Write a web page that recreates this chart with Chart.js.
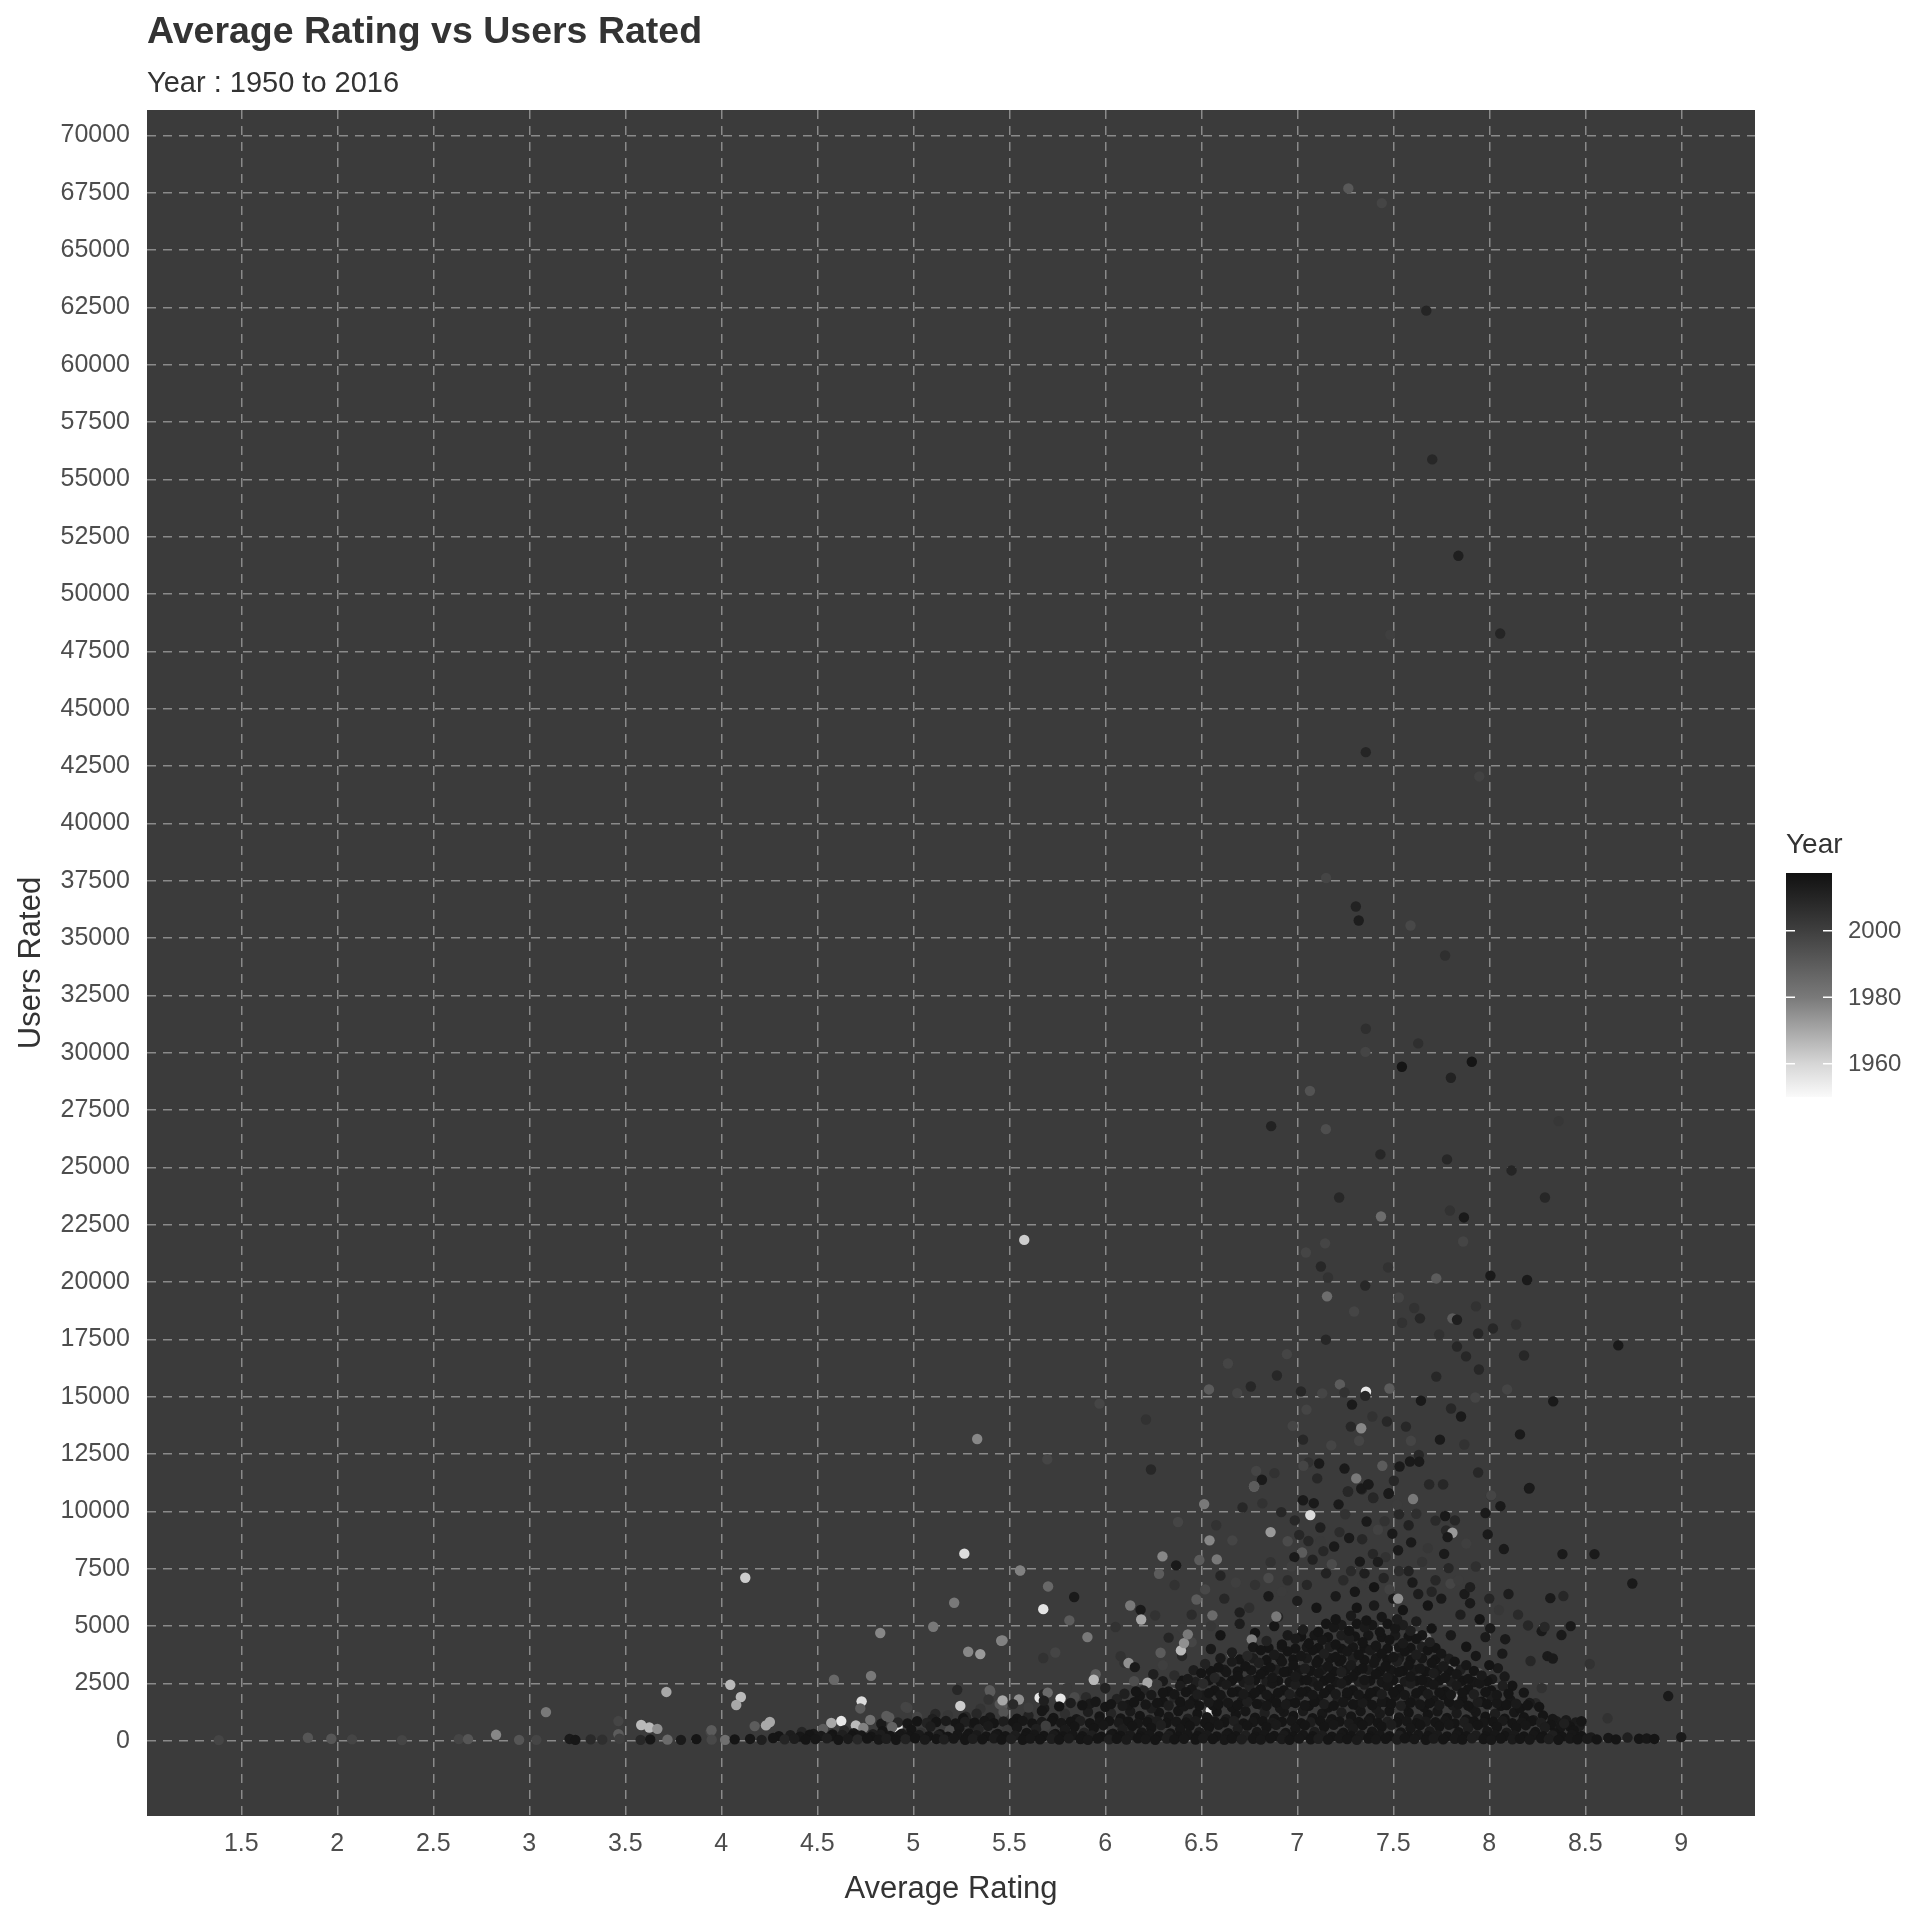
<!DOCTYPE html>
<html><head><meta charset="utf-8">
<script src="https://cdn.jsdelivr.net/npm/chart.js@4.4.0/dist/chart.umd.min.js"></script>
<style>html,body{margin:0;padding:0;background:#fff}canvas{display:block}</style>
</head><body>
<canvas id="c" width="1920" height="1920" style="width:1920px;height:1920px"></canvas>
<script>
// ---------- text ----------
const chartTitle = "Average Rating vs Users Rated";
const chartSubtitle = "Year : 1950 to 2016";
const xTitle = "Average Rating";
const yTitle = "Users Rated";
const legendTitle = "Year";

// ---------- ticks ----------
const xTicks = [1.5,2,2.5,3,3.5,4,4.5,5,5.5,6,6.5,7,7.5,8,8.5,9];
const yTicks = [0,2500,5000,7500,10000,12500,15000,17500,20000,22500,25000,27500,30000,32500,35000,37500,40000,42500,45000,47500,50000,52500,55000,57500,60000,62500,65000,67500,70000];
const legendYears = [1960,1980,2000];
const yearRange = [1950,2017.4];

// ---------- data: [average rating, users rated, year] ----------
const baseBand = [[3.21,80,2014],[3.24,40,2015],[3.32,60,2008],[3.38,50,2006],[3.47,90,2000],[3.58,40,2009],[3.63,60,2015],[3.72,50,1985],[3.79,40,2014],[3.87,70,2016],[3.95,50,1997],[4.02,40,1983],[4.07,60,2016],[4.15,80,2015],[4.21,40,2012],[4.27,120,2016],[4.33,60,2010],[4.38,90,2013],[4.44,50,2016],[4.49,70,2015],[4.55,110,2012],[4.61,40,2016],[4.66,80,2014],[4.71,60,2009],[4.76,100,2016],[4.82,50,2015],[4.86,90,2013],[4.91,40,2016],[4.96,70,2011],[5.01,110,2016],[5.06,50,2014],[5.12,80,2016],[5.16,60,2012],[5.21,100,2015],[5.27,40,2016],[5.31,90,2013],[5.36,60,2016],[5.42,110,2014],[5.46,50,2016],[5.51,80,2012],[5.57,40,2016],[5.61,100,2015],[5.66,60,2016],[5.72,90,2013],[5.76,50,2016],[5.81,110,2014],[5.87,70,2016],[5.91,40,2015],[5.96,100,2016],[6.02,60,2012],[6.06,90,2016],[6.11,50,2014],[6.17,110,2016],[6.21,70,2015],[6.26,40,2016],[6.32,100,2013],[6.36,60,2016],[6.41,90,2015],[6.47,50,2016],[6.51,110,2014],[6.56,70,2016],[6.62,40,2015],[6.66,100,2016],[6.71,60,2013],[6.77,90,2016],[6.81,50,2015],[6.86,110,2016],[6.92,70,2014],[6.96,40,2016],[7.01,100,2015],[7.07,60,2016],[7.11,90,2013],[7.16,50,2016],[7.22,110,2015],[7.26,70,2016],[7.31,40,2014],[7.37,100,2016],[7.41,60,2015],[7.46,90,2016],[7.52,50,2013],[7.56,110,2016],[7.61,70,2015],[7.67,40,2016],[7.71,100,2014],[7.76,60,2016],[7.82,90,2015],[7.86,50,2016],[7.91,110,2013],[7.97,70,2016],[8.01,40,2015],[8.06,100,2016],[8.12,60,2014],[8.16,90,2016],[8.21,50,2015],[8.27,110,2016],[8.31,70,2013],[8.36,40,2016],[8.42,100,2015],[8.46,60,2016],[8.51,90,2014],[8.56,60,2016],[8.62,120,2015],[8.66,60,2016],[8.72,140,2012],[8.78,90,2016],[8.82,100,2015],[8.86,80,2016],[9.0,160,2014]];

const fillLow = [[4.3,200,2016],[4.36,240,2013],[4.41,180,2015],[4.46,260,2016],[4.52,210,2014],[4.57,190,2016],[4.63,250,2012],[4.68,200,2016],[4.73,230,2015],[4.78,180,2016],[4.83,260,2013],[4.88,210,2016],[4.93,240,2015],[4.98,190,2016],[5.03,250,2014],[5.08,200,2016],[5.13,230,2012],[5.18,180,2016],[5.23,260,2015],[5.28,210,2016],[5.33,240,2014],[5.38,190,2016],[5.43,250,2015],[5.48,200,2016],[5.53,230,2013],[5.58,180,2016],[5.63,260,2015],[5.68,210,2016],[5.73,240,2014],[5.78,190,2016],[5.83,250,2015],[5.88,200,2016],[5.93,230,2012],[5.98,180,2016],[6.03,260,2015],[6.08,210,2016],[6.13,240,2014],[6.18,190,2016],[6.23,250,2015],[6.28,200,2016],[6.33,230,2013],[6.38,180,2016],[6.43,260,2015],[6.48,210,2016],[6.53,240,2014],[6.58,190,2016],[6.63,250,2015],[6.68,200,2016],[6.73,230,2012],[6.78,180,2016],[6.83,260,2015],[6.88,210,2016],[6.93,240,2014],[6.98,190,2016],[7.03,250,2015],[7.08,200,2016],[7.13,230,2013],[7.18,180,2016],[7.23,260,2015],[7.28,210,2016],[7.33,240,2014],[7.38,190,2016],[7.43,250,2015],[7.48,200,2016],[7.53,230,2012],[7.58,180,2016],[7.63,260,2015],[7.68,210,2016],[7.73,240,2014],[7.78,190,2016],[7.83,250,2015],[7.88,200,2016],[7.93,230,2013],[7.98,180,2016],[8.03,260,2015],[8.08,210,2016],[8.13,240,2014],[8.18,190,2016],[8.23,250,2015],[8.28,200,2016],[8.33,230,2012],[8.38,180,2016],[8.43,260,2015],[8.48,210,2016],[8.53,150,2014]];

const lowBand = [[4.42,380,2010],[4.48,300,2014],[4.53,520,1990],[4.58,280,2016],[4.64,450,2008],[4.69,330,2015],[4.74,560,1978],[4.79,290,2012],[4.84,420,2016],[4.89,600,1988],[4.94,310,2014],[4.99,480,2016],[5.04,350,2005],[5.09,620,2013],[5.14,290,2016],[5.19,450,1995],[5.24,560,2015],[5.29,320,2016],[5.34,500,2010],[5.39,650,2014],[5.44,300,2016],[5.49,470,2003],[5.54,580,2015],[5.59,340,2016],[5.64,520,2012],[5.69,660,2000],[5.74,300,2016],[5.79,480,2014],[5.84,620,2016],[5.89,350,2011],[5.94,540,2016],[5.99,680,2015],[6.04,310,2016],[6.09,500,2013],[6.14,640,2016],[6.19,360,2015],[6.24,560,2016],[6.29,690,2012],[6.34,320,2016],[6.39,510,2015],[6.44,650,2016],[6.49,370,2014],[6.54,580,2016],[6.59,700,2015],[6.64,330,2016],[6.69,520,2013],[6.74,660,2016],[6.79,380,2015],[6.84,590,2016],[6.89,700,2014],[6.94,340,2016],[6.99,530,2015],[7.04,670,2016],[7.09,390,2013],[7.14,600,2016],[7.19,700,2015],[7.24,350,2016],[7.29,540,2014],[7.34,680,2016],[7.39,400,2015],[7.44,610,2016],[7.49,700,2013],[7.54,360,2016],[7.59,550,2015],[7.64,690,2016],[7.69,410,2014],[7.74,620,2016],[7.79,700,2015],[7.84,370,2016],[7.89,560,2013],[7.94,680,2016],[7.99,420,2015],[8.04,600,2016],[8.09,350,2014],[8.14,560,2016],[8.19,680,2015],[8.24,380,2016],[8.29,580,2013],[8.34,330,2016],[8.39,760,2012],[8.44,450,2016],[8.48,850,2015]];

const fillMid = [[4.92,800,2009],[4.97,760,2015],[5.02,850,2016],[5.07,780,2011],[5.12,820,2016],[5.17,870,2014],[5.22,760,2016],[5.27,830,2012],[5.32,790,2016],[5.37,860,2015],[5.42,770,2016],[5.47,840,2013],[5.52,800,2016],[5.57,870,2015],[5.62,760,2016],[5.67,820,2014],[5.72,850,2016],[5.77,780,2015],[5.82,830,2016],[5.87,870,2012],[5.92,770,2016],[5.97,810,2015],[6.02,860,2016],[6.07,790,2014],[6.12,840,2016],[6.17,760,2015],[6.22,820,2016],[6.27,870,2013],[6.32,780,2016],[6.37,830,2015],[6.42,800,2016],[6.47,860,2014],[6.52,770,2016],[6.57,840,2015],[6.62,810,2016],[6.67,870,2012],[6.72,760,2016],[6.77,820,2015],[6.82,850,2016],[6.87,790,2014],[6.92,830,2016],[6.97,870,2015],[7.02,770,2016],[7.07,810,2013],[7.12,860,2016],[7.17,790,2015],[7.22,840,2016],[7.27,760,2014],[7.32,820,2016],[7.37,870,2015],[7.42,780,2016],[7.47,830,2012],[7.52,800,2016],[7.57,860,2015],[7.62,770,2016],[7.67,840,2014],[7.72,810,2016],[7.77,870,2015],[7.82,760,2016],[7.87,820,2013],[7.92,850,2016],[7.97,790,2015],[8.02,830,2016],[8.07,870,2014],[8.12,770,2016],[8.17,810,2015],[8.22,860,2016],[8.27,790,2012],[8.32,700,2016],[8.37,560,2015],[8.42,620,2016],
[5.82,1650,2013],[5.88,1550,2016],[5.95,1700,2015],[6.03,1600,2016],[6.09,1520,2014],[6.15,1680,2016],[6.21,1580,2015],[6.27,1650,2016],[6.33,1540,2013],[6.39,1700,2016],[6.44,1600,2015],[6.49,1530,2016],[6.54,1680,2014],[6.59,1590,2016],[6.64,1650,2015],[6.69,1560,2016],[6.74,1700,2012],[6.79,1610,2016],[6.84,1530,2015],[6.89,1670,2016],[6.94,1580,2014],[6.99,1650,2016],[7.04,1550,2015],[7.09,1700,2016],[7.14,1600,2013],[7.19,1530,2016],[7.24,1680,2015],[7.29,1590,2016],[7.34,1650,2014],[7.39,1560,2016],[7.44,1700,2015],[7.49,1610,2016],[7.54,1530,2012],[7.59,1670,2016],[7.64,1580,2015],[7.69,1650,2016],[7.74,1550,2014],[7.79,1700,2016],[7.84,1600,2015],[7.89,1530,2016],[7.94,1680,2013],[7.99,1590,2016],[8.04,1650,2015],[8.09,1560,2016],[8.14,1620,2014],[8.2,1550,2016],
[6.1,2050,2012],[6.16,2150,2016],[6.24,2000,2014],[6.3,2100,2016],[6.36,2030,2015],[6.42,2120,2016],[6.48,2020,2013],[6.54,2080,2016],[6.6,2000,2015],[6.66,2110,2016],[6.72,2040,2014],[6.78,2100,2016],[6.84,2010,2015],[6.9,2090,2016],[6.96,2030,2012],[7.02,2120,2016],[7.08,2000,2015],[7.14,2080,2016],[7.2,2040,2014],[7.26,2110,2016],[7.32,2010,2015],[7.38,2090,2016],[7.44,2030,2013],[7.5,2120,2016],[7.56,2000,2015],[7.62,2080,2016],[7.68,2040,2014],[7.74,2110,2016],[7.8,2010,2015],[7.86,2090,2016],[7.92,2030,2012],[7.98,2120,2016],[8.04,2000,2015],[8.1,2060,2016]];

const midBand = [[5.02,1050,1998],[5.1,950,2012],[5.18,1120,2003],[5.26,980,2016],[5.33,1180,2009],[5.4,1020,2014],[5.47,1250,1993],[5.54,960,2016],[5.6,1100,2011],[5.67,1300,2015],[5.73,1000,2016],[5.79,1180,2006],[5.85,940,2015],[5.91,1260,2013],[5.97,1060,2016],[6.03,1200,2010],[6.08,970,2016],[6.13,1280,2014],[6.18,1080,2016],[6.23,920,2012],[6.28,1220,2016],[6.33,1050,2015],[6.38,1300,2016],[6.43,960,2013],[6.48,1180,2016],[6.53,1030,2015],[6.58,1270,2016],[6.63,940,2014],[6.68,1150,2016],[6.73,1290,2015],[6.78,1010,2016],[6.83,1210,2012],[6.88,950,2016],[6.93,1260,2015],[6.98,1080,2016],[7.03,1300,2014],[7.08,990,2016],[7.13,1190,2015],[7.18,940,2016],[7.23,1240,2013],[7.28,1060,2016],[7.33,1290,2015],[7.38,980,2016],[7.43,1170,2014],[7.48,1300,2016],[7.53,1020,2015],[7.58,1230,2016],[7.63,950,2013],[7.68,1150,2016],[7.73,1280,2015],[7.78,1000,2016],[7.83,1200,2014],[7.88,930,2016],[7.93,1260,2015],[7.98,1050,2016],[8.03,1180,2013],[8.08,960,2016],[8.13,1240,2015],[8.18,1030,2016],[8.23,900,2014],[8.28,1100,2016],[8.33,950,2015],
[5.52,1600,2008],[5.6,1450,2000],[5.68,1750,2012],[5.76,1500,2016],[5.84,1900,1996],[5.92,1620,2014],[6.0,1480,2016],[6.06,1820,2011],[6.12,1560,2015],[6.18,1950,2016],[6.24,1420,2013],[6.3,1700,2016],[6.36,1880,2009],[6.41,1500,2015],[6.46,1780,2016],[6.51,1980,2014],[6.56,1550,2016],[6.61,1840,2012],[6.66,1460,2016],[6.71,1720,2015],[6.76,1960,2016],[6.81,1580,2013],[6.86,1860,2016],[6.91,1430,2015],[6.96,1700,2016],[7.01,1990,2014],[7.06,1520,2016],[7.11,1800,2015],[7.16,1450,2016],[7.21,1740,2012],[7.26,1970,2016],[7.31,1560,2015],[7.36,1850,2016],[7.41,1420,2014],[7.46,1700,2016],[7.51,1960,2015],[7.56,1530,2016],[7.61,1820,2013],[7.66,1470,2016],[7.71,1760,2015],[7.76,1990,2016],[7.81,1550,2014],[7.86,1840,2016],[7.91,1440,2015],[7.96,1700,2016],[8.01,1950,2013],[8.06,1520,2016],[8.11,1780,2015],[8.16,1420,2016],[8.21,1650,2014],[8.26,1480,2016]];

const coreBand = [[6.2,2200,2010],[6.27,2450,2003],[6.33,2150,2016],[6.39,2400,2013],[6.45,2250,2015],[6.51,2500,2008],[6.57,2200,2016],[6.63,2450,2014],[6.69,2150,2016],[6.75,2400,2011],[6.81,2250,2016],[6.87,2500,2015],[6.93,2200,2016],[6.99,2450,2013],[7.05,2150,2016],[7.11,2400,2015],[7.17,2250,2016],[7.23,2500,2014],[7.29,2200,2016],[7.35,2450,2012],[7.41,2150,2016],[7.47,2400,2015],[7.53,2250,2016],[7.59,2500,2013],[7.65,2200,2016],[7.71,2450,2015],[7.77,2150,2016],[7.83,2400,2014],[7.89,2250,2016],[7.95,2500,2015],[8.01,2200,2016],[8.07,2400,2012],
[6.36,2850,2007],[6.43,2700,2014],[6.5,2950,2016],[6.57,2750,2010],[6.63,3000,2015],[6.69,2800,2016],[6.75,2650,2013],[6.81,2900,2016],[6.87,2750,2015],[6.93,3000,2016],[6.99,2800,2014],[7.05,2650,2016],[7.11,2950,2015],[7.17,2750,2016],[7.23,3000,2012],[7.29,2800,2016],[7.35,2650,2015],[7.41,2900,2016],[7.47,2750,2014],[7.53,3000,2016],[7.59,2800,2015],[7.65,2650,2016],[7.71,2950,2013],[7.77,2750,2016],[7.83,2900,2015],[7.89,2700,2016],[7.96,2850,2014],
[6.52,3350,2011],[6.59,3200,2016],[6.66,3450,2014],[6.73,3250,2016],[6.8,3400,2012],[6.86,3200,2016],[6.92,3450,2015],[6.98,3300,2016],[7.04,3150,2013],[7.1,3400,2016],[7.16,3250,2015],[7.22,3450,2016],[7.28,3300,2014],[7.34,3150,2016],[7.4,3400,2015],[7.46,3250,2016],[7.52,3450,2012],[7.58,3300,2016],[7.64,3150,2015],[7.7,3400,2016],[7.76,3250,2014],[7.82,3450,2016],[7.88,3300,2015],
[6.66,3850,2013],[6.74,3700,2009],[6.81,3950,2016],[6.88,3750,2014],[6.95,3900,2016],[7.02,3700,2015],[7.08,3950,2016],[7.14,3800,2012],[7.2,3650,2016],[7.26,3900,2015],[7.32,3750,2016],[7.38,3950,2014],[7.44,3800,2016],[7.5,3650,2015],[7.56,3900,2016],[7.62,3750,2013],[7.68,3950,2016],[7.75,3800,2015],
[6.84,4350,2011],[6.92,4200,2016],[6.99,4450,2014],[7.06,4250,2016],[7.13,4400,2015],[7.2,4200,2016],[7.27,4450,2013],[7.34,4300,2016],[7.41,4150,2015],[7.48,4400,2016],[7.55,4250,2014],[7.62,4450,2016],[7.69,4300,2012],
[7.03,4850,2013],[7.11,4750,2016],[7.19,4950,2015],[7.27,4800,2016],[7.35,4950,2014],[7.43,4750,2016],[7.51,4900,2015],[7.59,4800,2012],
[7.2,5300,2016],[7.28,5450,2014],[7.36,5250,2016],[7.44,5400,2015],[7.52,5300,2013],[7.31,5800,2016],[7.4,5900,2014]];

const fillCore = [[6.3,2600,2014],[6.4,2620,2016],[6.47,2560,2012],[6.54,2640,2016],[6.6,2580,2015],[6.66,2620,2016],[6.72,2560,2014],[6.78,2640,2016],[6.84,2580,2013],[6.9,2620,2016],[6.96,2560,2015],[7.02,2640,2016],[7.08,2580,2014],[7.14,2620,2016],[7.2,2560,2015],[7.26,2640,2016],[7.32,2580,2012],[7.38,2620,2016],[7.44,2560,2015],[7.5,2640,2016],[7.56,2580,2014],[7.62,2620,2016],[7.68,2560,2015],[7.74,2640,2016],[7.8,2580,2013],[7.86,2620,2016],[7.92,2560,2015],[7.99,2600,2016],
[6.46,3080,2013],[6.55,3050,2016],[6.62,3100,2014],[6.69,3020,2016],[6.76,3080,2015],[6.83,3050,2016],[6.89,3100,2012],[6.95,3020,2016],[7.01,3080,2015],[7.07,3050,2016],[7.13,3100,2014],[7.19,3020,2016],[7.25,3080,2015],[7.31,3050,2016],[7.37,3100,2013],[7.43,3020,2016],[7.49,3080,2015],[7.55,3050,2016],[7.61,3100,2014],[7.67,3020,2016],[7.73,3080,2015],[7.79,3050,2016],[7.85,3100,2012],[7.92,3050,2016],
[6.6,3600,2014],[6.7,3550,2016],[6.77,3600,2013],[6.84,3520,2016],[6.91,3600,2015],[6.98,3550,2016],[7.05,3600,2014],[7.11,3520,2016],[7.17,3600,2015],[7.23,3550,2016],[7.29,3600,2012],[7.35,3520,2016],[7.41,3600,2015],[7.47,3550,2016],[7.53,3600,2014],[7.59,3520,2016],[7.65,3600,2015],[7.72,3550,2016],[7.79,3580,2013],
[6.77,4080,2015],[6.85,4050,2016],[6.92,4100,2014],[6.99,4020,2016],[7.05,4080,2015],[7.11,4050,2016],[7.17,4100,2013],[7.23,4020,2016],[7.29,4080,2015],[7.35,4050,2016],[7.41,4100,2014],[7.47,4020,2016],[7.53,4080,2015],[7.59,4050,2016],[7.65,4100,2012],[7.72,4050,2016],
[6.95,4600,2014],[7.02,4550,2016],[7.09,4600,2015],[7.16,4520,2016],[7.23,4600,2013],[7.3,4550,2016],[7.37,4600,2015],[7.44,4520,2016],[7.51,4600,2014],[7.58,4550,2016],[7.65,4600,2015],
[7.15,5100,2016],[7.23,5050,2014],[7.31,5100,2016],[7.39,5050,2015],[7.47,5100,2016],[7.55,5050,2013]];

const fringe = [[6.62,6200,2009],[6.7,5600,2012],[6.78,6800,2005],[6.85,6300,2014],[6.9,5400,2010],[6.95,7000,2007],[7.0,6100,2013],[7.05,6800,2009],[7.1,5800,2016],[7.15,7300,2011],[7.2,6300,2014],[7.24,7000,2008],[7.3,6500,2015],[7.35,7300,2012],[7.4,6700,2016],[7.45,7100,2010],[7.5,6200,2014],[7.55,5700,2016],[7.58,7400,2011],[7.63,6400,2013],[7.68,5900,2016],[7.72,7000,2009],[7.75,6200,2014],[7.85,5500,2012],[7.9,6000,2014],[7.95,5300,2016],[6.45,4300,1998],[6.55,5000,2003],[6.4,3700,2009],[6.3,3300,2000],[6.25,2900,2012],[6.15,2600,1995],[6.1,3400,2005],[6.0,2300,2011],[5.95,2900,1990],[5.9,1900,2008],[5.8,2300,2002],[5.7,2100,1985],[5.55,1800,1975],[5.45,1600,1992],[5.35,1400,2004],[7.62,5200,2013],[7.7,4900,2016],[7.8,4600,2014],[7.88,4100,2016],[7.93,3700,2015],[8.0,3300,2016],[8.08,2800,2014],[8.12,2400,2016],[8.18,2100,2015],[6.55,4000,2014],[6.6,4600,2016],[6.7,5100,2013],[6.78,4700,2016],[6.88,5000,2015],
[6.97,7600,2000],[7.08,7900,2011],[7.18,7700,1996],[7.28,7400,2008],[7.34,6800,2002],[7.42,7800,2013],[7.48,6600,1999],[7.53,7400,2007],[7.6,6900,2014],[7.65,7800,2004],[7.7,6500,2010],[7.84,7000,2001],[7.9,6700,2012],[7.93,7600,2006],[8.0,6200,2010],[8.05,5700,2003],[8.1,6400,2013],[8.15,5500,2008],[6.92,6500,2001],[6.85,7100,1996],[6.75,5800,2006],[6.68,6900,2000],[6.6,7200,2010],[6.52,6600,1997],[6.45,5500,2007],[6.4,4900,2001],[6.33,4500,2010],[7.12,8700,2002],[7.22,9100,2007],[7.42,9200,1999],[7.58,9400,2011],[7.68,8400,2003],[7.72,9600,2008],[7.88,8600,2000],[7.12,9300,2012],[6.95,8700,1996],[7.52,10300,2001],[7.62,9900,2006],
[5.465,1760,1970],[5.94,2660,1966],[6.22,2530,1970],[6.121,3390,1975],[6.154,3210,2014],[6.08,3690,2005],[6.394,3940,1966],[6.41,4260,1975],[6.43,4640,1980],[6.288,3840,1990],[6.55,1330,1955],[6.558,5470,1985],[6.475,6160,1990],[6.763,4420,1978],[6.66,3800,1975],[6.891,5420,1980],[7.525,6200,1975],[7.619,4550,1980],[7.672,4490,1978],[7.816,3360,1982],[7.833,1830,1975],[7.944,2950,1990],[7.47,3800,1980],[7.12,2400,1985],[6.92,1500,1990],[6.35,2100,1985]];

const scatterLow = [[5.556,7430,1978],[5.702,6730,1986],[5.838,6270,2014],[5.677,5740,1956],[5.813,5250,1990],[5.465,4380,1978],[5.907,4520,1980],[5.677,3610,2005],[5.74,3850,1998],[6.053,4960,2005],[6.184,5710,2014],[6.13,5900,1980],[6.187,5290,1970],[6.26,5470,2005],[6.298,8040,1977],[6.369,7650,2014],[6.28,7280,1990],[6.379,9540,1998],[6.361,6790,2005],[6.515,10320,1980],[6.578,9400,2005],[6.543,8740,1977],[6.49,7880,1990],[6.581,7910,1980],[6.662,8740,1998],[6.715,10170,2009],[6.775,11100,1990],[6.818,10350,2005],[6.861,9100,1973],[6.917,9970,2009],[7.068,9840,1958],[6.987,9610,2009],[7.01,8980,2009],[7.058,8710,2009],[7.025,8210,1990],[6.985,8010,2014],[6.861,7790,2005],[7.03,10490,2014],[7.086,10360,2014],[7.215,10310,2014],[7.25,9880,2005],[7.192,8470,2014],[7.136,8270,2009],[7.265,10870,2009],[7.333,11000,2014],[7.371,11180,2014],[7.396,10580,2009],[7.475,10770,2014],[7.53,9880,2009],[7.455,9580,2005],[7.361,9560,2014],[7.27,8840,2014],[7.338,8790,2009],[7.394,8150,2009],[7.46,8010,2005],[7.326,7810,2014],[7.495,9030,2014],[7.525,8310,2014],[7.593,8650,2014],[7.603,10540,1980],[7.687,11180,2009],[7.76,11180,2009],[7.77,9800,2014],[7.821,9610,2009],[7.775,9170,2009],[7.808,9070,1973],[7.783,8880,2014],[7.765,8150,2014],[7.788,7530,2009],[7.798,6850,1998],[7.871,6400,2014],[8.01,10700,1998],[8.058,10230,2014],[7.98,9930,2014],[7.992,9000,2014],[8.076,8360,2014],[8.21,11030,2014],[8.381,8140,2014],[8.548,8140,2014],[8.745,6860,2014],[8.318,6220,2014],[8.386,6310,2009],[8.202,5030,2009],[8.273,4780,2014],[8.288,4960,2009],[8.424,5000,2014],[8.376,4610,2014],[8.005,4900,2014],[7.98,4520,2014],[8.083,4430,2014],[8.215,3480,2009],[8.303,3690,2014],[8.331,3590,2014],[8.523,3350,2005],[8.068,3800,2014],[8.045,3170,2014],[8.015,2690,2014],[8.273,2300,2005],[8.242,1640,2009],[8.932,1950,2014],[8.616,980,2005],[8.35,850,2014],[8.4,900,2014],[8.45,800,2014],[8.47,650,2013],[8.38,700,2015]];

const scatterMid = [[7.218,23690,2009],[8.29,23690,2009],[7.436,22860,1984],[7.795,23120,2005],[7.868,22820,2014],[7.145,21690,1998],[7.045,21290,1998],[7.123,20680,2009],[7.16,20200,2005],[7.473,20640,2005],[7.864,21770,1998],[7.724,20160,1990],[8.006,20280,2014],[8.197,20090,2014],[7.354,19850,2009],[7.155,19380,1984],[7.296,18720,1998],[7.529,19330,1998],[7.609,18870,2005],[7.639,18420,2009],[7.546,18230,2005],[7.808,18420,1990],[7.832,18360,2012],[7.931,18940,2005],[7.739,17720,2005],[7.942,17760,2009],[8.019,17980,2009],[8.14,18150,2005],[7.149,17490,2009],[8.672,17240,2014],[7.832,17190,2009],[7.879,16760,2009],[8.181,16800,2009],[7.946,16190,2009],[6.946,16860,1998],[6.639,16450,1998],[6.894,15930,2009],[6.758,15450,2009],[6.54,15320,1990],[6.687,15160,1998],[7.019,15230,2009],[7.13,15150,1998],[7.222,15540,1990],[7.246,15190,2005],[7.358,15220,1955],[7.354,15040,2009],[7.48,15360,1990],[7.724,15880,2009],[7.644,14830,2014],[7.927,14970,1998],[8.093,15320,1998],[8.333,14800,2014],[7.285,14660,2014],[7.048,14440,1998],[7.391,14140,2005],[7.801,14490,2009],[7.853,14140,2014],[6.212,14010,2005],[5.97,14700,1998],[7.467,13920,2009],[7.566,13700,2009],[7.279,13700,2009],[7.333,13630,1977],[6.976,13730,1998],[7.03,13130,2009],[7.322,13080,1998],[7.177,12880,1998],[7.592,13080,1998],[7.743,13130,2014],[7.87,12920,2005],[8.16,13360,2014],[6.238,11830,2009],[7.633,12460,2009],[7.587,12180,2014],[7.635,12170,2014],[7.533,11960,2014],[7.942,11700,2009],[7.114,12090,2014],[7.058,12140,2005],[7.032,11990,1998],[7.246,11870,2014],[6.786,11770,1998],[6.881,11670,2005],[6.816,11380,2014],[6.775,11090,1982],[7.104,11440,2009],[7.307,11440,1980],[7.369,11180,2014],[7.337,10960,2009],[7.263,10870,2009],[7.503,11340,2009],[7.443,11990,1990],[7.687,11180,2005],[7.758,11180,2005],[8.207,11000,2014],[8.009,10680,2005],[7.477,10800,2014],[7.395,10610,2009]];

const scatterHigh = [[7.266,67690,1991],[7.44,67050,1998],[7.672,62360,2010],[7.703,55875,2009],[7.839,51670,2012],[7.484,48230,2000],[8.057,48280,2010],[7.357,43110,2010],[7.948,42050,1999],[7.15,37620,1998],[7.305,36380,2011],[7.32,35770,2013],[7.59,35550,1997],[7.77,34240,2006],[7.357,31050,2006],[7.63,30410,2006],[7.355,30040,1998],[7.545,29390,2016],[7.909,29610,2016],[7.80,28910,2011],[7.066,28340,1993],[8.361,27020,2003],[6.864,26800,2011],[7.149,26670,1995],[7.433,25570,2009],[7.78,25350,2009],[8.116,24870,2010]];

const scatterLeft = [[5.578,21840,1962],[5.333,13160,1977],[5.698,12270,1998],[5.266,8160,1958],[4.125,7110,1962],[5.557,7420,1980],[5.703,6720,1998],[5.213,6020,1980],[5.104,4970,1980],[4.828,4700,1977],[5.458,4360,1977],[5.286,3880,1977],[5.349,3780,1973],[4.587,2660,1986],[4.78,2830,1980],[4.047,2440,1966],[4.102,1910,1966],[4.078,1560,1970],[3.714,2130,1970],[4.731,1720,1958],[5.229,2220,2009],[5.245,1520,1962],[5.401,2140,1990],[5.464,1520,1990],[5.658,1880,1955],[5.767,1840,1955],[5.68,2030,2009],[5.682,1410,2014],[4.969,1440,1998],[5.115,1170,2009],[5.274,1000,2009],[5.316,690,2009],[4.724,1410,1990],[4.875,1020,1990],[4.776,910,1982],[4.625,860,1955],[4.573,780,1970],[4.833,740,2014],[4.918,600,1955],[4.701,670,1966],[4.174,640,1990],[4.233,670,1970],[4.253,820,1970],[3.583,690,1966],[3.625,580,1966],[3.667,520,1975],[3.464,860,1998],[3.469,230,1998],[3.944,390,1998],[1.383,30,1998],[1.847,130,1992],[1.969,90,1992],[2.077,60,1998],[2.337,30,1998],[2.633,70,1998],[2.681,70,1992],[2.827,260,1977],[2.947,40,1992],[3.037,40,1998],[3.087,1250,1980],[3.464,290,1990],[3.949,460,1990],[4.86,1080,1990],[4.96,1480,1998],[5.398,2210,1990],[5.392,1800,2005],[5.273,1050,2009],[5.31,760,2014]];

const pointGroups = [baseBand, fillLow, lowBand, fillMid, midBand, coreBand, fillCore, fringe, scatterLow, scatterMid, scatterHigh, scatterLeft];

// ---------- colour scale (white -> black by year) ----------
const greyStops = [[1950,250],[1960,214],[1980,121],[2000,63],[2017.4,17]];
function yearGrey(yr){
  if (yr <= greyStops[0][0]) return greyStops[0][1];
  for (let i=1;i<greyStops.length;i++){
    const [y1,g1]=greyStops[i], [y0,g0]=greyStops[i-1];
    if (yr <= y1) return g0 + (g1-g0)*(yr-y0)/(y1-y0);
  }
  return greyStops[greyStops.length-1][1];
}
function yearColor(yr){ const g=Math.round(yearGrey(yr)); return `rgb(${g},${g},${g})`; }

// ---------- style ----------
const FONT = "'Liberation Sans', Arial, sans-serif";
const TEXT = '#333333';
const TICKTEXT = '#4d4d4d';
const PANEL = '#3b3b3b';
const GRID = '#8a8a8a';

const datasets = pointGroups.map(g => ({
  data: g.map(p => ({x:p[0], y:p[1]})),
  backgroundColor: g.map(p => yearColor(p[2])),
  borderWidth: 0,
  pointRadius: 5.2,
  pointHoverRadius: 5.2
}));

const decor = {
  id: 'decor',
  beforeDraw(chart){
    const {ctx, chartArea:a} = chart;
    ctx.save();
    ctx.fillStyle = '#ffffff';
    ctx.fillRect(0,0,chart.width,chart.height);
    ctx.fillStyle = PANEL;
    ctx.fillRect(a.left, a.top, a.right-a.left, a.bottom-a.top);
    ctx.restore();
  },
  afterDraw(chart){
    const {ctx, chartArea:a} = chart;
    ctx.save();
    ctx.fillStyle = TEXT;
    ctx.textBaseline = 'alphabetic';
    ctx.textAlign = 'left';
    ctx.font = `bold 37.5px ${FONT}`;
    ctx.fillText(chartTitle, a.left, 43);
    ctx.font = `29px ${FONT}`;
    ctx.fillText(chartSubtitle, a.left, 92);
    ctx.font = `31px ${FONT}`;
    ctx.textAlign = 'center';
    ctx.textBaseline = 'middle';
    ctx.fillText(xTitle, (a.left+a.right)/2, 1889);
    ctx.save();
    ctx.translate(31, (a.top+a.bottom)/2);
    ctx.rotate(-Math.PI/2);
    ctx.fillText(yTitle, 0, 0);
    ctx.restore();
    // colour bar legend
    const bx=1786, bw=46, bt=873, bb=1097;
    ctx.textAlign='left'; ctx.textBaseline='alphabetic';
    ctx.font = `28px ${FONT}`;
    ctx.fillText(legendTitle, bx, 853);
    const grad = ctx.createLinearGradient(0,bb,0,bt);
    const span = yearRange[1]-yearRange[0];
    greyStops.forEach(([yr,g]) => {
      const f = Math.min(1, Math.max(0,(yr-yearRange[0])/span));
      grad.addColorStop(f, `rgb(${g},${g},${g})`);
    });
    ctx.fillStyle = grad;
    ctx.fillRect(bx, bt, bw, bb-bt);
    ctx.strokeStyle = '#ffffff'; ctx.lineWidth = 1.5;
    ctx.font = `24px ${FONT}`; ctx.fillStyle = TICKTEXT; ctx.textBaseline='middle';
    legendYears.forEach(yr => {
      const y = bb - (yr-yearRange[0])/span*(bb-bt);
      ctx.beginPath();
      ctx.moveTo(bx, y); ctx.lineTo(bx+9, y);
      ctx.moveTo(bx+bw-9, y); ctx.lineTo(bx+bw, y);
      ctx.stroke();
      ctx.fillText(String(yr), bx+bw+16, y+1);
    });
    ctx.restore();
  }
};

Chart.defaults.font.family = FONT;

new Chart(document.getElementById('c'), {
  type: 'scatter',
  data: { datasets },
  options: {
    responsive: false,
    animation: false,
    devicePixelRatio: 1,
    events: [],
    layout: { padding: { top: 110, right: 165, bottom: 0, left: 0 } },
    plugins: { legend: {display:false}, tooltip: {enabled:false}, title:{display:false} },
    scales: {
      x: {
        type: 'linear', min: 1.009, max: 9.384,
        afterBuildTicks: s => { s.ticks = xTicks.map(v => ({value:v})); },
        afterFit: s => { s.height = 104; },
        ticks: { color: TICKTEXT, font: {size: 25}, padding: 13, callback: v => String(v), maxRotation: 0, autoSkip: false },
        grid: { color: GRID, lineWidth: 1.5, drawTicks: false },
        border: { display: false, dash: [9,7] }
      },
      y: {
        type: 'linear', min: -3280, max: 71110,
        afterBuildTicks: s => { s.ticks = yTicks.map(v => ({value:v})); },
        afterFit: s => { s.width = 147; },
        ticks: { color: TICKTEXT, font: {size: 25}, padding: 17, callback: v => String(v), autoSkip: false },
        grid: { color: GRID, lineWidth: 1.5, drawTicks: false },
        border: { display: false, dash: [9,7] }
      }
    }
  },
  plugins: [decor]
});
</script>
</body></html>
